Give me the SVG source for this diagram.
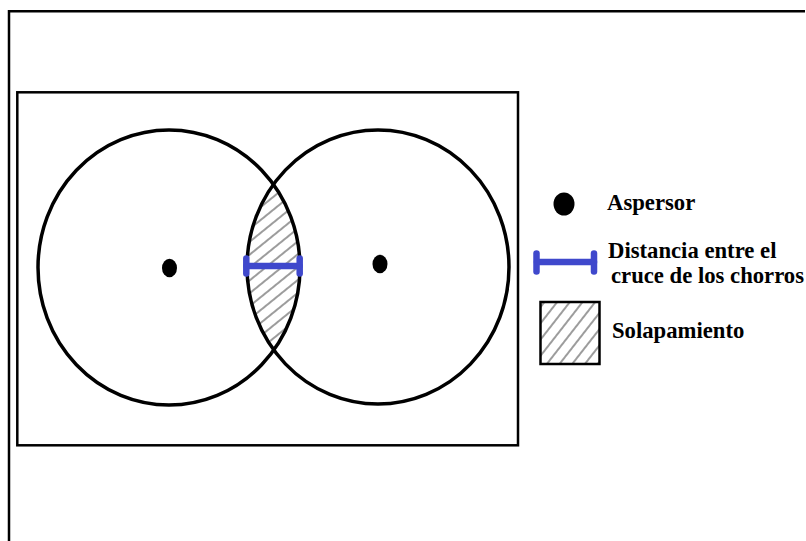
<svg xmlns="http://www.w3.org/2000/svg" width="806" height="541" viewBox="0 0 806 541">
  <style>
    .frame{fill:none;stroke:#000;stroke-width:2.5}
    .circ{fill:none;stroke:#000;stroke-width:3.5}
    .bar{stroke:#3F48CC;stroke-width:6.5;stroke-linecap:round;fill:none}
    .cap{stroke:#3F48CC;stroke-width:6.5;stroke-linecap:round;fill:none}
    .lbl{font-family:"Liberation Serif","Times New Roman",serif;font-weight:bold;font-size:22.7px;fill:#000}
  </style>
  <defs>
    <pattern id="hatchLens" patternUnits="userSpaceOnUse" width="20" height="10" patternTransform="rotate(-39)">
      <line x1="0" y1="5" x2="20" y2="5" stroke="#222" stroke-width="0.9"/>
    </pattern>
    <pattern id="hatchLeg" patternUnits="userSpaceOnUse" width="20" height="10" patternTransform="rotate(-52)">
      <line x1="0" y1="5" x2="20" y2="5" stroke="#222" stroke-width="0.9"/>
    </pattern>
    <clipPath id="clipLeft">
      <ellipse cx="169" cy="267.5" rx="131" ry="137.5"/>
    </clipPath>
  </defs>
  <rect width="806" height="541" fill="#fff"/>
  <g id="outer-frame">
    <path class="frame" d="M9,541 V11.3 H805"/>
  </g>
  <g id="field">
    <rect class="frame" x="17.3" y="92.3" width="500.7" height="353"/>
  </g>
  <g id="overlap">
    <ellipse cx="378" cy="267" rx="131" ry="137" fill="url(#hatchLens)" clip-path="url(#clipLeft)"/>
  </g>
  <g id="circle-left">
    <ellipse class="circ" cx="169" cy="267.5" rx="131" ry="137.5"/>
    <ellipse cx="169.5" cy="268" rx="7.5" ry="9.3" fill="#000"/>
  </g>
  <g id="circle-right">
    <ellipse class="circ" cx="378" cy="267" rx="131" ry="137"/>
    <ellipse cx="380" cy="264" rx="7.5" ry="9.3" fill="#000"/>
  </g>
  <g id="connectors">
    <g id="distance-bar">
      <line class="bar" x1="246.5" y1="266" x2="299.5" y2="266"/>
      <line class="cap" x1="246.3" y1="258.5" x2="246.3" y2="273.5"/>
      <line class="cap" x1="299.7" y1="258.5" x2="299.7" y2="273.5"/>
    </g>
  </g>
  <g id="legend-aspersor">
    <ellipse cx="564" cy="204" rx="10.5" ry="11.5" fill="#000"/>
    <text class="lbl" x="607" y="210">Aspersor</text>
  </g>
  <g id="legend-distancia">
    <line class="bar" x1="537" y1="262" x2="594" y2="262"/>
    <line class="cap" x1="536.5" y1="253.5" x2="536.5" y2="271.5"/>
    <line class="cap" x1="594" y1="253.5" x2="594" y2="271.5"/>
    <text class="lbl" x="608" y="258">Distancia entre el</text>
    <text class="lbl" x="611" y="283">cruce de los chorros</text>
  </g>
  <g id="legend-solapamiento">
    <rect x="540.5" y="302" width="59" height="62" fill="url(#hatchLeg)" stroke="#000" stroke-width="2.5"/>
    <text class="lbl" x="612" y="338">Solapamiento</text>
  </g>
</svg>
